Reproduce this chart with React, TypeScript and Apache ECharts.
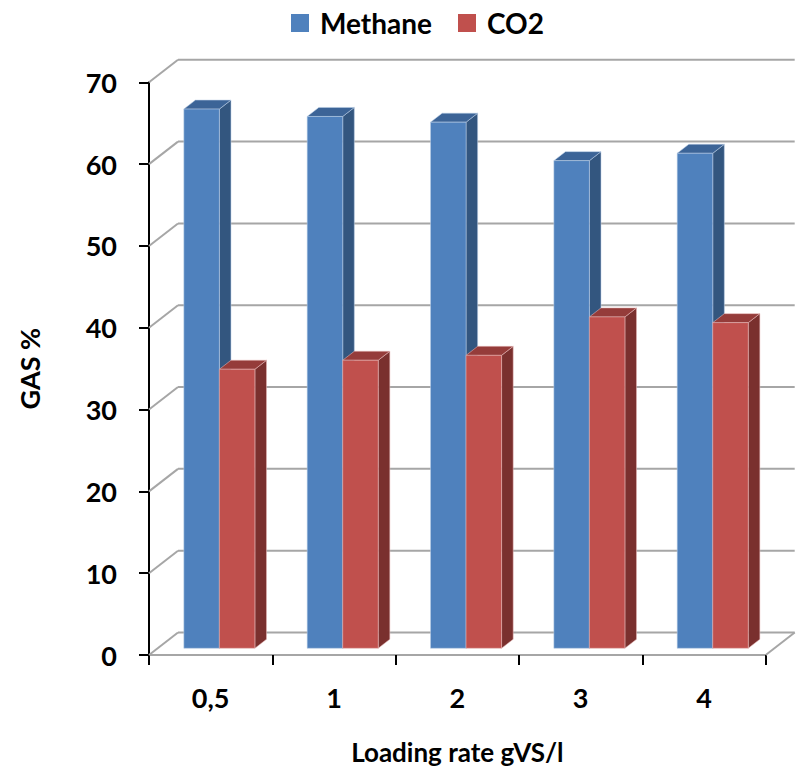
import React, { useEffect, useRef } from "react";
import * as echarts from "echarts";

// Loading rate categories and gas composition (%)
const categories = ["0,5", "1", "2", "3", "4"];
const methane = [65.9, 65.0, 64.3, 59.6, 60.5];
const co2 = [34.1, 35.2, 35.8, 40.5, 39.8];
const yTicks = [0, 10, 20, 30, 40, 50, 60, 70];

// Pseudo-3D geometry: back wall offset and bar depth slice
const DEPTH_X = 29;
const DEPTH_Y = -22.5;
const BAR_FRONT = 0.3;
const BAR_BACK = 0.7;
const BAR_WIDTH_RATIO = 0.288;

const FONT = "Lato, 'Open Sans', sans-serif";
const GRID_COLOR = "#A6A6A6";

const BLUE = { front: "#4F81BD", top: "#3C6497", side: "#33567F", edge: "rgba(185,205,229,0.9)" };
const RED = { front: "#C0504D", top: "#953C3A", side: "#7A302E", edge: "rgba(230,185,184,0.9)" };

function wallItem(params: any, api: any) {
  const v = api.value(1);
  const cs = params.coordSys;
  const left = cs.x;
  const right = cs.x + cs.width;
  const y = api.coord([0, v])[1];
  const style = { stroke: GRID_COLOR, lineWidth: 2 };
  const children: any[] = [
    { type: "line", shape: { x1: left, y1: y, x2: left + DEPTH_X, y2: y + DEPTH_Y }, style },
    { type: "line", shape: { x1: left + DEPTH_X, y1: y + DEPTH_Y, x2: right + DEPTH_X, y2: y + DEPTH_Y }, style },
  ];
  if (v === 0) {
    children.push({ type: "line", shape: { x1: right, y1: y, x2: right + DEPTH_X, y2: y + DEPTH_Y }, style });
  }
  return { type: "group", children };
}

function barRenderer(slot: number, colors: typeof BLUE) {
  return (params: any, api: any) => {
    const idx = api.value(0);
    const val = api.value(1);
    const base = api.coord([idx, 0]);
    const top = api.coord([idx, val]);
    const catW = api.size([1, 0])[0];
    const bw = catW * BAR_WIDTH_RATIO;
    const ox = DEPTH_X * BAR_FRONT;
    const oy = DEPTH_Y * BAR_FRONT;
    const dx = DEPTH_X * (BAR_BACK - BAR_FRONT);
    const dy = DEPTH_Y * (BAR_BACK - BAR_FRONT);
    const x0 = base[0] - bw + slot * bw + ox;
    const x1 = x0 + bw;
    const yb = base[1] + oy;
    const yt = top[1] + oy;
    return {
      type: "group",
      children: [
        {
          type: "polygon",
          shape: { points: [[x1, yt], [x1 + dx, yt + dy], [x1 + dx, yb + dy], [x1, yb]] },
          style: { fill: colors.side, stroke: colors.edge, lineWidth: 0.6 },
        },
        {
          type: "polygon",
          shape: { points: [[x0, yt], [x0 + dx, yt + dy], [x1 + dx, yt + dy], [x1, yt]] },
          style: { fill: colors.top, stroke: colors.edge, lineWidth: 0.6 },
        },
        {
          type: "rect",
          shape: { x: x0, y: yt, width: bw, height: yb - yt },
          style: { fill: colors.front, stroke: colors.edge, lineWidth: 0.6 },
        },
      ],
    };
  };
}

export default function App() {
  const ref = useRef<HTMLDivElement>(null);

  useEffect(() => {
    if (!ref.current) return;
    const chart = echarts.init(ref.current, undefined, { renderer: "svg" });
    chart.setOption({
      animation: false,
      backgroundColor: "#ffffff",
      textStyle: { fontFamily: FONT },
      legend: {
        top: 3,
        left: 286,
        icon: "rect",
        itemWidth: 18,
        itemHeight: 18,
        itemGap: 26,
        textStyle: {
          fontFamily: FONT,
          fontSize: 28,
          lineHeight: 30,
          fontWeight: "bold",
          color: "#000",
          padding: [0, 0, 0, 6],
        },
        data: ["Methane", "CO2"],
      },
      grid: { left: 149, right: 32.3, top: 82.3, bottom: 115 },
      xAxis: {
        type: "category",
        data: categories,
        boundaryGap: true,
        name: "Loading rate gVS/l",
        nameLocation: "middle",
        nameGap: 84,
        nameTextStyle: { fontFamily: FONT, fontSize: 26, fontWeight: "bold", color: "#000" },
        axisLine: { lineStyle: { color: GRID_COLOR, width: 2 } },
        axisTick: { show: true, length: 10, lineStyle: { color: "#000", width: 2 } },
        axisLabel: { margin: 29, fontFamily: FONT, fontSize: 27, fontWeight: "bold", color: "#000" },
        splitLine: { show: false },
      },
      yAxis: {
        type: "value",
        min: 0,
        max: 70,
        interval: 10,
        name: "GAS %",
        nameLocation: "middle",
        nameRotate: 90,
        nameGap: 106,
        nameTextStyle: { fontFamily: FONT, fontSize: 27, fontWeight: "bold", color: "#000" },
        axisLine: { show: true, lineStyle: { color: "#000", width: 2 } },
        axisTick: { show: true, length: 10, lineStyle: { color: "#000", width: 2 } },
        axisLabel: { margin: 32, fontFamily: FONT, fontSize: 27, fontWeight: "bold", color: "#000" },
        splitLine: { show: false },
      },
      series: [
        {
          type: "custom",
          name: "walls",
          z: 1,
          silent: true,
          renderItem: wallItem,
          data: yTicks.map((v) => [0, v]),
        },
        {
          type: "custom",
          name: "Methane",
          z: 2,
          itemStyle: { color: BLUE.front },
          renderItem: barRenderer(0, BLUE),
          data: methane.map((v, i) => [i, v]),
        },
        {
          type: "custom",
          name: "CO2",
          z: 3,
          itemStyle: { color: RED.front },
          renderItem: barRenderer(1, RED),
          data: co2.map((v, i) => [i, v]),
        },
      ],
    });
    return () => chart.dispose();
  }, []);

  return (
    <div
      ref={ref}
      style={{ position: "fixed", left: 0, top: 0, width: 798, height: 770, background: "#fff" }}
    />
  );
}
